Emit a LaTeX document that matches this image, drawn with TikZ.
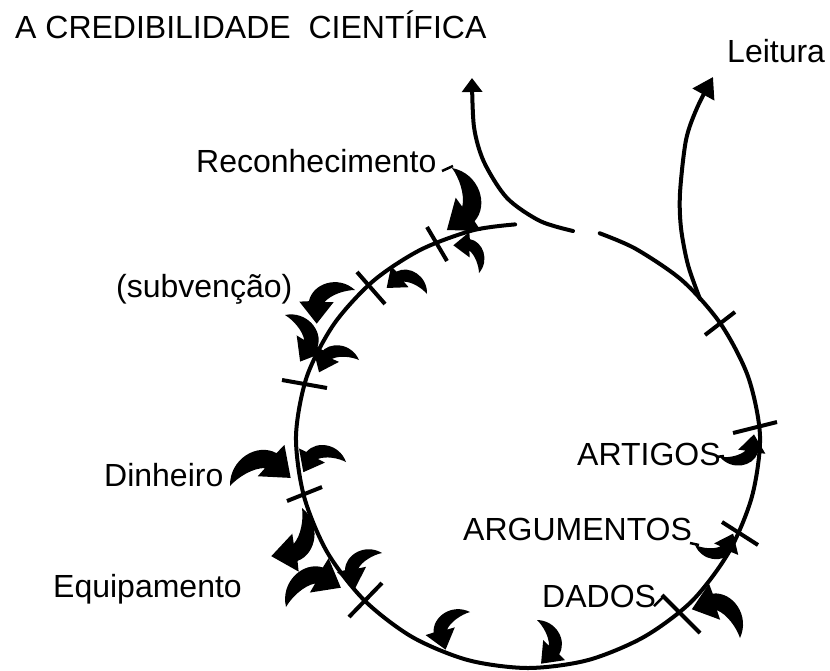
\documentclass[tikz,border=0pt]{standalone}
\usepackage{fontspec}
\setmainfont{Liberation Sans}
\usetikzlibrary{arrows.meta}
\tikzset{
  lbl/.style={inner sep=0pt, anchor=base west, font=\fontsize{32}{36}\selectfont},
  circ/.style={line width=4pt, line cap=round},
  tickmark/.style={line width=4pt},
  leafstyle/.style={fill=black},
}
\newcommand{\leafshape}[5]{%
  \fill[leafstyle, shift={(#1,#2)}, rotate=#3, scale=#4, yscale=#5]
    (0,0) .. controls (0.05,-0.45) and (0.55,-0.66) .. (0.84,-0.44)
    -- (0.99,-0.56) -- (1.02,0) -- (0.48,-0.10) -- (0.62,-0.22)
    .. controls (0.42,-0.25) and (0.15,-0.13) .. (0,0) -- cycle;}
\begin{document}
\begin{tikzpicture}[x=1pt, y=-1pt]
\fill[white] (0,0) rectangle (830,670);
\useasboundingbox (0,0) rectangle (830,670);

% texts
\node[lbl] (title) at (15,38) {A CREDIBILIDADE\ \ CIENTÍFICA};
\node[lbl] (leitura) at (727,62) {Leitura};
\node[lbl] (recon) at (196,172) {Reconhecimento};
\node[lbl] (subv) at (116,297) {(subvenção)};
\node[lbl] (dinh) at (104,486) {Dinheiro};
\node[lbl] (equip) at (53,597) {Equipamento};
\node[lbl] (artigos) at (577,465) {ARTIGOS};
\node[lbl] (argum) at (463,540) {ARGUMENTOS};
\node[lbl] (dados) at (542,607) {DADOS};

% main cycle
\draw[circ] plot[smooth] coordinates {(599.7,233.3) (636,249) (682.9,281.1) (721.1,324.5) (748.2,377) (760,436) (752.1,496) (728.9,552) (692,601) (644,636.9) (588,660.1) (528,668) (468,660.1) (412,636.9) (364,600) (327.1,552) (303.9,496) (296,436) (306.8,376.7) (334,324) (373.1,281.1) (420.5,249.8) (472.9,230.3) (515.1,224.4)};

% outgoing arrows
\draw[circ, -{Triangle[width=20pt,length=14pt]}] plot[smooth] coordinates {(573,231) (540,221) (507,198) (484,162) (474,127) (472,78)};
\draw[circ, -{Triangle[width=24pt,length=20pt]}] plot[smooth] coordinates {(700,299) (688,265) (681,228) (680,193) (686,140) (697,108) (713,77)};

% tick marks
\draw[tickmark] (427,227) -- (447,261);
\draw[tickmark] (357,272) -- (385,304);
\draw[tickmark] (282,380) -- (327,388);
\draw[tickmark] (287,501) -- (322,487);
\draw[tickmark] (349,617) -- (382,583);
\draw[tickmark] (662,595) -- (700,633);
\draw[tickmark] (722,522) -- (758,545);
\draw[tickmark] (733,433) -- (777,422);
\draw[tickmark] (705,335) -- (735,312);

% small connecting strokes from labels
\draw[line width=2.5pt] (442,171) .. controls (448,168) .. (453,166);
\draw[line width=2.5pt] (716,457) -- (724,456);
\draw[line width=2.5pt] (690,543) -- (699,545);
\draw[line width=2.5pt] (654,606) -- (663,597);

% leaf-shaped curved arrows
\leafshape{452}{168}{-94.7}{61}{1}
\leafshape{479}{273}{132.8}{37}{-1}
\leafshape{427}{294}{171.5}{40}{-1}
\leafshape{355}{290}{221.3}{50}{-1}
\leafshape{285}{315}{-72}{48}{1}
\leafshape{359}{360}{197.1}{41}{-1}
\leafshape{230}{486}{7.6}{60}{1}
\leafshape{346}{462}{193.4}{43}{-1}
\leafshape{302}{508}{-122.5}{56}{1}
\leafshape{286}{607}{19.4}{57}{1}
\leafshape{382}{553}{-127.4}{43}{-1}
\leafshape{470}{612}{-123}{44}{-1}
\leafshape{537}{620}{-84.7}{43}{1}
\leafshape{740}{638}{149.2}{55}{-1}
\leafshape{695}{545}{16.6}{39}{-1}
\leafshape{720}{457}{33.7}{40}{-1}
\end{tikzpicture}
\end{document}
